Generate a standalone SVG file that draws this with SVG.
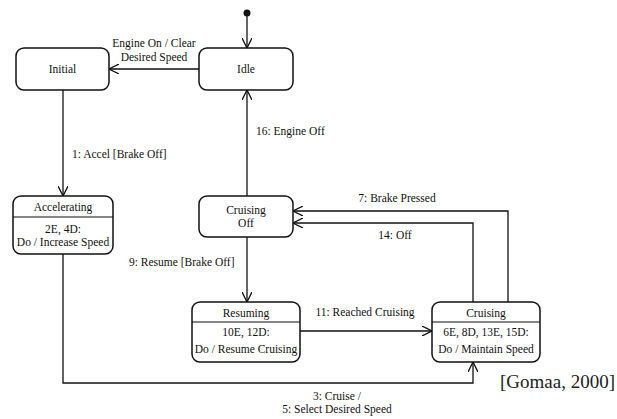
<svg xmlns="http://www.w3.org/2000/svg" width="617" height="419" viewBox="0 0 617 419">
<style>
.box{fill:#fff;stroke:#111;stroke-width:1.5}
.div{stroke:#111;stroke-width:1.2}
.ln{fill:none;stroke:#111;stroke-width:1.3}
text{font-family:"Liberation Serif","Times New Roman",serif;font-size:11.5px;fill:#111;text-anchor:middle}
.l{text-anchor:start}
.cite{font-size:19px;fill:#222;text-anchor:start}
</style>
<defs>
<marker id="arr" viewBox="0 0 10 10" refX="10" refY="5" markerWidth="10" markerHeight="10" markerUnits="userSpaceOnUse" orient="auto">
<path d="M0,0 L10,5 L0,10" fill="none" stroke="#111" stroke-width="1.3"/>
</marker>
</defs>
<rect width="617" height="419" fill="#fff"/>
<g id="connectors">
<circle cx="247" cy="13" r="3.5" fill="#111"/>
<line class="ln" x1="247" y1="16" x2="247" y2="48" marker-end="url(#arr)"/>
<line class="ln" x1="199" y1="69" x2="109" y2="69" marker-end="url(#arr)"/>
<text x="154" y="47">Engine On / Clear</text>
<text x="154" y="61">Desired Speed</text>
<line class="ln" x1="63" y1="90" x2="63" y2="196" marker-end="url(#arr)"/>
<text class="l" x="72" y="158">1: Accel [Brake Off]</text>
<line class="ln" x1="247" y1="196" x2="247" y2="90" marker-end="url(#arr)"/>
<text class="l" x="256" y="135">16: Engine Off</text>
<polyline class="ln" points="508,302 508,211 293,211" marker-end="url(#arr)"/>
<text x="397" y="202">7: Brake Pressed</text>
<polyline class="ln" points="473,302 473,223 293,223" marker-end="url(#arr)"/>
<text x="395" y="239">14: Off</text>
<line class="ln" x1="247" y1="237" x2="247" y2="302" marker-end="url(#arr)"/>
<text class="l" x="129" y="266">9: Resume [Brake Off]</text>
<line class="ln" x1="300" y1="331" x2="432" y2="331" marker-end="url(#arr)"/>
<text x="365" y="316">11: Reached Cruising</text>
<polyline class="ln" points="63,254 63,383 473,383 473,362" marker-end="url(#arr)"/>
<text x="337" y="400">3: Cruise /</text>
<text x="337" y="413">5: Select Desired Speed</text>
</g>
<g id="initial">
<rect class="box" x="16" y="48" width="93" height="42" rx="8"/>
<text x="62.5" y="73">Initial</text>
</g>
<g id="idle">
<rect class="box" x="199" y="48" width="94" height="42" rx="8"/>
<text x="246" y="73">Idle</text>
</g>
<g id="accelerating">
<rect class="box" x="13" y="196" width="100" height="58" rx="8"/>
<line class="div" x1="13" y1="217" x2="113" y2="217"/>
<text x="63" y="211">Accelerating</text>
<text x="63" y="233">2E, 4D:</text>
<text x="63" y="246">Do / Increase Speed</text>
</g>
<g id="cruising-off">
<rect class="box" x="199" y="196" width="94" height="41" rx="8"/>
<text x="246" y="214">Cruising</text>
<text x="246" y="227">Off</text>
</g>
<g id="resuming">
<rect class="box" x="192" y="302" width="108" height="60" rx="8"/>
<line class="div" x1="192" y1="322" x2="300" y2="322"/>
<text x="246" y="317">Resuming</text>
<text x="246" y="336">10E, 12D:</text>
<text x="246" y="353">Do / Resume Cruising</text>
</g>
<g id="cruising">
<rect class="box" x="432" y="302" width="108" height="60" rx="8"/>
<line class="div" x1="432" y1="322" x2="540" y2="322"/>
<text x="486" y="317">Cruising</text>
<text x="486" y="336">6E, 8D, 13E, 15D:</text>
<text x="486" y="353">Do / Maintain Speed</text>
</g>
<text class="cite" x="500" y="388">[Gomaa, 2000]</text>
</svg>
